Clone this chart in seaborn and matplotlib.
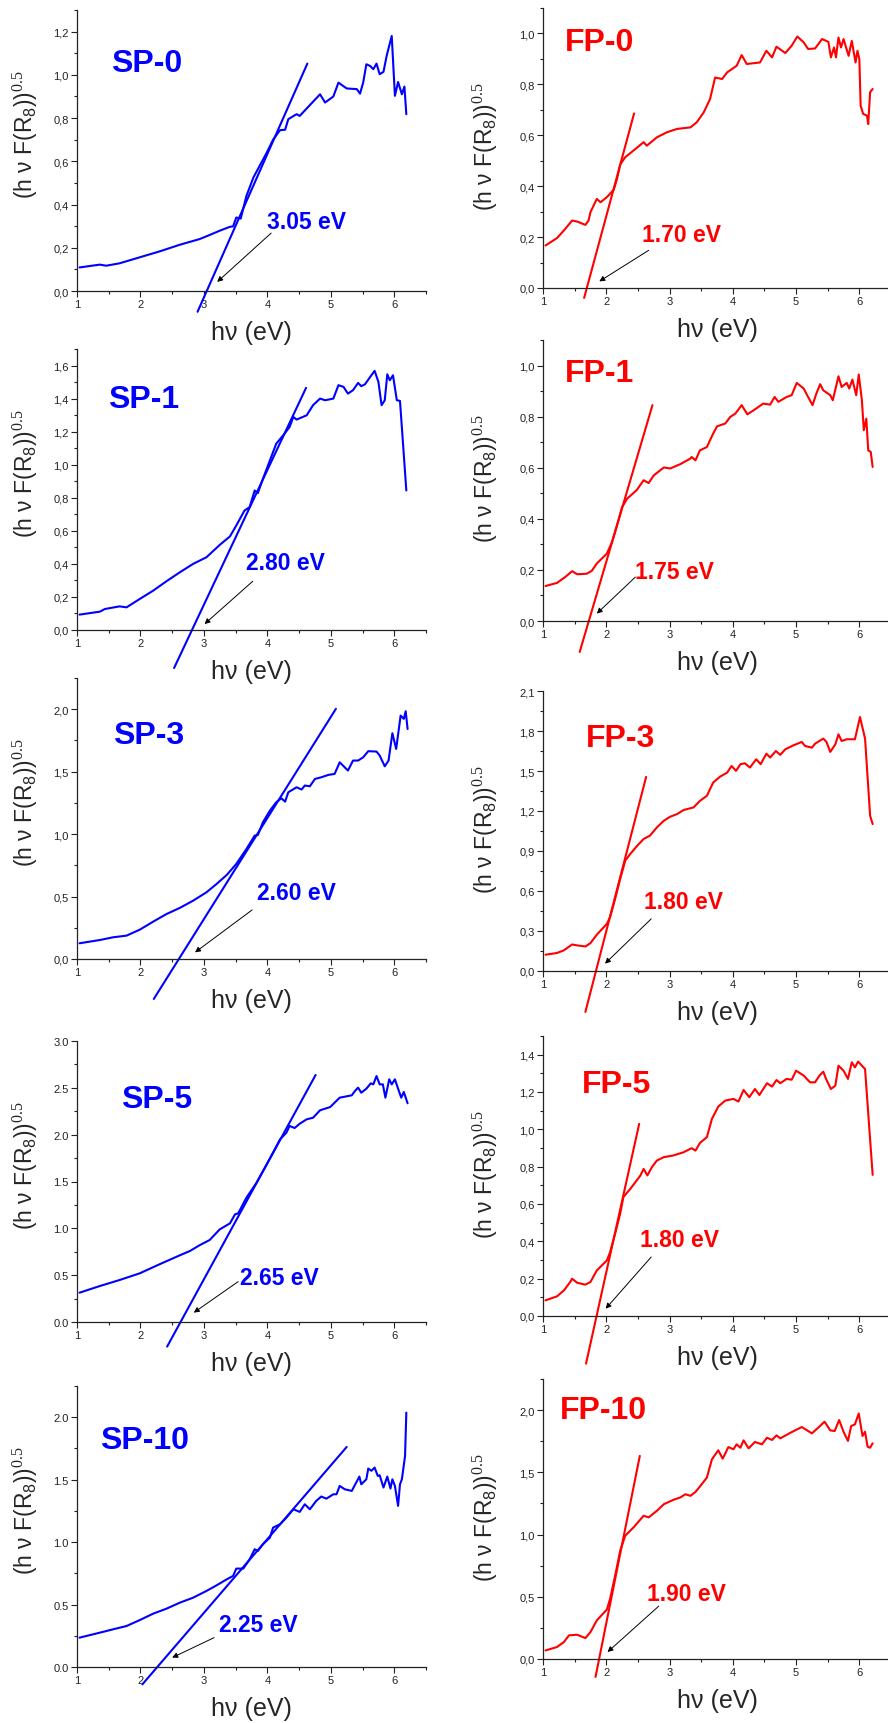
import matplotlib
matplotlib.use("Agg")
import matplotlib.pyplot as plt
from matplotlib.ticker import MultipleLocator, FuncFormatter
import seaborn as sns
import pandas as pd

# ---------------- data ----------------
SP0_x = [1.04, 1.36, 1.46, 1.67, 1.99, 2.30, 2.62, 2.93, 3.04, 3.25, 3.41, 3.46, 3.51, 3.58, 3.67, 3.78, 3.88, 3.99, 4.09, 4.20, 4.28, 4.33, 4.46, 4.51, 4.67, 4.83, 4.91, 5.04, 5.12, 5.25, 5.41, 5.46, 5.51, 5.56, 5.62, 5.67, 5.72, 5.77, 5.83, 5.88, 5.96, 6.01, 6.06, 6.12, 6.16, 6.19]
SP0_y = [0.109, 0.122, 0.117, 0.128, 0.156, 0.183, 0.214, 0.240, 0.253, 0.279, 0.297, 0.299, 0.340, 0.335, 0.440, 0.525, 0.580, 0.640, 0.700, 0.744, 0.746, 0.795, 0.818, 0.810, 0.860, 0.910, 0.872, 0.900, 0.964, 0.937, 0.934, 0.913, 0.964, 1.049, 1.041, 1.026, 1.052, 1.003, 1.014, 1.088, 1.180, 0.903, 0.967, 0.910, 0.946, 0.818]

FP0_x = [1.04, 1.22, 1.33, 1.46, 1.54, 1.67, 1.72, 1.75, 1.85, 1.91, 2.01, 2.12, 2.17, 2.22, 2.30, 2.46, 2.59, 2.64, 2.80, 2.96, 3.12, 3.33, 3.43, 3.54, 3.64, 3.72, 3.83, 3.91, 4.06, 4.14, 4.22, 4.43, 4.53, 4.62, 4.69, 4.83, 4.93, 5.02, 5.12, 5.19, 5.30, 5.41, 5.51, 5.55, 5.60, 5.63, 5.67, 5.71, 5.75, 5.83, 5.88, 5.94, 5.97, 6.00, 6.02, 6.06, 6.12, 6.14, 6.17, 6.21]
FP0_y = [0.167, 0.196, 0.226, 0.265, 0.261, 0.248, 0.265, 0.298, 0.350, 0.337, 0.357, 0.387, 0.429, 0.485, 0.514, 0.546, 0.573, 0.559, 0.592, 0.612, 0.625, 0.631, 0.651, 0.690, 0.742, 0.827, 0.821, 0.847, 0.873, 0.915, 0.880, 0.886, 0.932, 0.906, 0.948, 0.923, 0.952, 0.988, 0.965, 0.939, 0.941, 0.978, 0.967, 0.906, 0.945, 0.906, 0.984, 0.945, 0.978, 0.912, 0.971, 0.886, 0.932, 0.899, 0.716, 0.684, 0.677, 0.644, 0.769, 0.782]

SP1_x = [1.04, 1.36, 1.44, 1.67, 1.78, 1.99, 2.20, 2.41, 2.62, 2.83, 3.04, 3.25, 3.41, 3.51, 3.64, 3.72, 3.80, 3.85, 3.93, 4.04, 4.14, 4.25, 4.35, 4.41, 4.46, 4.62, 4.72, 4.83, 4.91, 5.04, 5.12, 5.20, 5.27, 5.35, 5.43, 5.48, 5.54, 5.62, 5.69, 5.75, 5.80, 5.85, 5.89, 5.93, 5.98, 6.04, 6.09, 6.19]
SP1_y = [0.093, 0.111, 0.127, 0.143, 0.137, 0.188, 0.238, 0.295, 0.349, 0.400, 0.440, 0.515, 0.566, 0.632, 0.723, 0.743, 0.844, 0.828, 0.915, 1.026, 1.127, 1.178, 1.228, 1.289, 1.273, 1.299, 1.360, 1.400, 1.390, 1.400, 1.481, 1.471, 1.430, 1.451, 1.495, 1.475, 1.487, 1.531, 1.568, 1.501, 1.360, 1.390, 1.547, 1.511, 1.541, 1.390, 1.386, 0.844]

FP1_x = [1.04, 1.22, 1.35, 1.46, 1.54, 1.69, 1.77, 1.85, 2.01, 2.09, 2.17, 2.25, 2.33, 2.48, 2.59, 2.67, 2.75, 2.91, 3.01, 3.17, 3.33, 3.35, 3.41, 3.48, 3.59, 3.69, 3.75, 3.88, 3.96, 4.04, 4.14, 4.23, 4.33, 4.48, 4.59, 4.66, 4.72, 4.85, 4.93, 5.01, 5.12, 5.19, 5.26, 5.32, 5.38, 5.43, 5.54, 5.58, 5.67, 5.72, 5.80, 5.84, 5.89, 5.95, 5.99, 6.04, 6.07, 6.11, 6.14, 6.18, 6.21]
FP1_y = [0.137, 0.149, 0.172, 0.195, 0.183, 0.185, 0.196, 0.225, 0.264, 0.309, 0.375, 0.446, 0.479, 0.512, 0.551, 0.540, 0.570, 0.601, 0.597, 0.614, 0.636, 0.642, 0.629, 0.668, 0.681, 0.734, 0.762, 0.773, 0.799, 0.812, 0.845, 0.809, 0.825, 0.851, 0.847, 0.877, 0.858, 0.877, 0.884, 0.932, 0.910, 0.877, 0.845, 0.890, 0.927, 0.903, 0.884, 0.864, 0.958, 0.916, 0.932, 0.910, 0.945, 0.884, 0.965, 0.864, 0.747, 0.792, 0.668, 0.662, 0.603]

SP3_x = [1.04, 1.36, 1.57, 1.78, 1.99, 2.20, 2.41, 2.62, 2.83, 3.04, 3.20, 3.36, 3.51, 3.67, 3.80, 3.85, 3.93, 4.04, 4.14, 4.22, 4.28, 4.33, 4.46, 4.54, 4.59, 4.67, 4.75, 4.85, 4.96, 5.06, 5.14, 5.27, 5.35, 5.43, 5.51, 5.59, 5.72, 5.77, 5.85, 5.91, 5.97, 6.03, 6.10, 6.15, 6.18, 6.21]
SP3_y = [0.126, 0.152, 0.174, 0.187, 0.235, 0.299, 0.360, 0.409, 0.467, 0.534, 0.601, 0.673, 0.761, 0.881, 0.988, 0.993, 1.095, 1.188, 1.255, 1.287, 1.260, 1.335, 1.375, 1.357, 1.389, 1.383, 1.442, 1.455, 1.474, 1.482, 1.575, 1.509, 1.589, 1.589, 1.615, 1.664, 1.661, 1.629, 1.543, 1.589, 1.808, 1.682, 1.949, 1.923, 1.984, 1.842]

FP3_x = [1.04, 1.22, 1.33, 1.46, 1.54, 1.67, 1.75, 1.85, 2.01, 2.06, 2.14, 2.22, 2.30, 2.38, 2.48, 2.59, 2.69, 2.80, 2.91, 3.01, 3.12, 3.22, 3.38, 3.48, 3.59, 3.69, 3.80, 3.91, 3.98, 4.05, 4.12, 4.19, 4.27, 4.37, 4.44, 4.53, 4.59, 4.68, 4.75, 4.83, 4.96, 5.09, 5.14, 5.25, 5.30, 5.43, 5.48, 5.54, 5.62, 5.67, 5.72, 5.80, 5.93, 6.01, 6.09, 6.17, 6.21]
FP3_y = [0.122, 0.135, 0.155, 0.199, 0.192, 0.184, 0.209, 0.272, 0.354, 0.404, 0.541, 0.691, 0.828, 0.878, 0.935, 0.990, 1.015, 1.077, 1.127, 1.157, 1.177, 1.207, 1.227, 1.276, 1.314, 1.414, 1.458, 1.488, 1.538, 1.501, 1.551, 1.558, 1.526, 1.588, 1.551, 1.630, 1.601, 1.650, 1.621, 1.663, 1.693, 1.718, 1.688, 1.675, 1.705, 1.743, 1.718, 1.643, 1.700, 1.775, 1.725, 1.738, 1.738, 1.905, 1.743, 1.164, 1.102]

SP5_x = [1.04, 1.36, 1.67, 1.99, 2.30, 2.62, 2.78, 2.93, 3.09, 3.25, 3.41, 3.49, 3.54, 3.67, 3.83, 3.99, 4.09, 4.20, 4.30, 4.35, 4.43, 4.51, 4.62, 4.72, 4.83, 4.99, 5.14, 5.33, 5.38, 5.43, 5.48, 5.56, 5.63, 5.67, 5.72, 5.77, 5.82, 5.86, 5.92, 5.96, 6.01, 6.06, 6.11, 6.15, 6.21]
SP5_y = [0.313, 0.384, 0.448, 0.520, 0.616, 0.712, 0.758, 0.819, 0.875, 0.989, 1.053, 1.149, 1.160, 1.327, 1.488, 1.683, 1.808, 1.950, 2.021, 2.093, 2.071, 2.117, 2.164, 2.181, 2.260, 2.295, 2.395, 2.420, 2.466, 2.502, 2.448, 2.491, 2.548, 2.537, 2.626, 2.537, 2.537, 2.395, 2.591, 2.537, 2.591, 2.491, 2.395, 2.456, 2.335]

FP5_x = [1.04, 1.22, 1.33, 1.43, 1.46, 1.54, 1.67, 1.75, 1.85, 2.01, 2.06, 2.14, 2.22, 2.27, 2.38, 2.48, 2.54, 2.59, 2.65, 2.72, 2.80, 2.91, 3.06, 3.22, 3.35, 3.41, 3.48, 3.59, 3.67, 3.77, 3.88, 4.01, 4.09, 4.17, 4.26, 4.35, 4.42, 4.54, 4.62, 4.69, 4.75, 4.85, 4.93, 5.00, 5.12, 5.22, 5.30, 5.37, 5.43, 5.47, 5.55, 5.62, 5.67, 5.75, 5.82, 5.88, 5.93, 5.98, 6.04, 6.09, 6.21]
FP5_y = [0.084, 0.105, 0.137, 0.182, 0.200, 0.178, 0.168, 0.182, 0.244, 0.298, 0.342, 0.441, 0.548, 0.637, 0.681, 0.726, 0.753, 0.788, 0.753, 0.797, 0.833, 0.851, 0.860, 0.877, 0.899, 0.886, 0.927, 0.958, 1.056, 1.122, 1.154, 1.163, 1.149, 1.211, 1.172, 1.216, 1.184, 1.247, 1.229, 1.264, 1.247, 1.270, 1.266, 1.314, 1.288, 1.252, 1.252, 1.288, 1.309, 1.273, 1.216, 1.234, 1.341, 1.314, 1.270, 1.359, 1.332, 1.363, 1.341, 1.323, 0.756]

SP10_x = [1.04, 1.36, 1.57, 1.78, 1.99, 2.20, 2.41, 2.62, 2.83, 3.04, 3.20, 3.36, 3.46, 3.51, 3.62, 3.72, 3.80, 3.85, 3.93, 4.04, 4.09, 4.20, 4.30, 4.41, 4.51, 4.59, 4.67, 4.77, 4.85, 4.93, 5.04, 5.09, 5.14, 5.22, 5.33, 5.45, 5.48, 5.56, 5.59, 5.64, 5.69, 5.74, 5.77, 5.83, 5.89, 5.94, 5.97, 6.01, 6.06, 6.09, 6.12, 6.17, 6.19]
SP10_y = [0.235, 0.275, 0.302, 0.328, 0.376, 0.427, 0.467, 0.515, 0.555, 0.609, 0.654, 0.702, 0.729, 0.788, 0.788, 0.862, 0.943, 0.929, 0.983, 1.036, 1.116, 1.143, 1.196, 1.263, 1.242, 1.303, 1.263, 1.330, 1.365, 1.348, 1.383, 1.383, 1.450, 1.423, 1.410, 1.525, 1.463, 1.503, 1.589, 1.571, 1.597, 1.530, 1.535, 1.437, 1.525, 1.429, 1.503, 1.450, 1.290, 1.463, 1.503, 1.690, 2.037]

FP10_x = [1.04, 1.22, 1.33, 1.41, 1.54, 1.67, 1.75, 1.85, 2.01, 2.06, 2.14, 2.22, 2.30, 2.43, 2.59, 2.67, 2.80, 2.91, 3.06, 3.17, 3.25, 3.33, 3.41, 3.48, 3.59, 3.67, 3.77, 3.84, 3.93, 4.01, 4.06, 4.12, 4.17, 4.25, 4.35, 4.46, 4.54, 4.62, 4.69, 4.75, 4.91, 5.09, 5.25, 5.35, 5.45, 5.54, 5.61, 5.68, 5.75, 5.82, 5.87, 5.93, 5.99, 6.05, 6.09, 6.13, 6.17, 6.21]
FP10_y = [0.069, 0.096, 0.136, 0.190, 0.195, 0.168, 0.216, 0.310, 0.398, 0.483, 0.670, 0.870, 0.991, 1.057, 1.151, 1.138, 1.191, 1.244, 1.279, 1.298, 1.324, 1.311, 1.343, 1.386, 1.458, 1.605, 1.677, 1.610, 1.703, 1.685, 1.725, 1.698, 1.757, 1.693, 1.744, 1.725, 1.778, 1.760, 1.797, 1.773, 1.818, 1.864, 1.813, 1.859, 1.907, 1.837, 1.832, 1.920, 1.826, 1.752, 1.872, 1.886, 1.973, 1.792, 1.826, 1.706, 1.698, 1.733]

# linear (Tauc) fit lines: end points
FIT_x = {"SP-0": [2.90, 4.63], "FP-0": [1.65, 2.44], "SP-1": [2.53, 4.61], "FP-1": [1.58, 2.73],
         "SP-3": [2.21, 5.08], "FP-3": [1.67, 2.63], "SP-5": [2.42, 4.76], "FP-5": [1.68, 2.52],
         "SP-10": [2.03, 5.25], "FP-10": [1.83, 2.53]}
FIT_y = {"SP-0": [-0.096, 1.052], "FP-0": [-0.039, 0.686], "SP-1": [-0.230, 1.465], "FP-1": [-0.121, 0.845],
         "SP-3": [-0.320, 2.003], "FP-3": [-0.307, 1.456], "SP-5": [-0.263, 2.637], "FP-5": [-0.255, 1.029],
         "SP-10": [-0.139, 1.762], "FP-10": [-0.144, 1.632]}

SAMPLES = ["SP-0", "FP-0", "SP-1", "FP-1", "SP-3", "FP-3", "SP-5", "FP-5", "SP-10", "FP-10"]
GAP_LABELS = ["3.05 eV", "1.70 eV", "2.80 eV", "1.75 eV", "2.60 eV", "1.80 eV", "2.65 eV", "1.80 eV", "2.25 eV", "1.90 eV"]
CURVES = {"SP-0": (SP0_x, SP0_y), "FP-0": (FP0_x, FP0_y), "SP-1": (SP1_x, SP1_y), "FP-1": (FP1_x, FP1_y),
          "SP-3": (SP3_x, SP3_y), "FP-3": (FP3_x, FP3_y), "SP-5": (SP5_x, SP5_y), "FP-5": (FP5_x, FP5_y),
          "SP-10": (SP10_x, SP10_y), "FP-10": (FP10_x, FP10_y)}
X_TICKS = [1, 2, 3, 4, 5, 6]

# ---------------- layout / style ----------------
# axes box in pixels: (left, top, right, bottom)
BOX = {"SP-0": (77, 11, 426, 292), "FP-0": (543, 9, 891, 289),
       "SP-1": (77, 350, 426, 631), "FP-1": (543, 341, 891, 622),
       "SP-3": (77, 679, 426, 960), "FP-3": (543, 692, 891, 972),
       "SP-5": (77, 1042, 426, 1323), "FP-5": (543, 1037, 891, 1317),
       "SP-10": (77, 1387, 426, 1668), "FP-10": (543, 1380, 891, 1660)}
YLIM = {"SP-0": 1.3, "FP-0": 1.1, "SP-1": 1.7, "FP-1": 1.1, "SP-3": 2.25, "FP-3": 2.1,
        "SP-5": 3.0, "FP-5": 1.5, "SP-10": 2.25, "FP-10": 2.25}
YSTEP = {"SP-0": 0.2, "FP-0": 0.2, "SP-1": 0.2, "FP-1": 0.2, "SP-3": 0.5, "FP-3": 0.3,
         "SP-5": 0.5, "FP-5": 0.2, "SP-10": 0.5, "FP-10": 0.5}
DOT_SEP = {"SP-5", "SP-10"}
TITLE_POS = {"SP-0": (1.54, 1.057), "FP-0": (1.34, 0.967), "SP-1": (1.49, 1.40), "FP-1": (1.34, 0.969),
             "SP-3": (1.57, 1.797), "FP-3": (1.68, 1.75), "SP-5": (1.69, 2.384), "FP-5": (1.62, 1.243),
             "SP-10": (1.37, 1.818), "FP-10": (1.27, 2.0)}
LABEL_POS = {"SP-0": (4.0, 0.32), "FP-0": (2.56, 0.209), "SP-1": (3.66, 0.41), "FP-1": (2.46, 0.195),
             "SP-3": (3.83, 0.534), "FP-3": (2.59, 0.524), "SP-5": (3.57, 0.473), "FP-5": (2.53, 0.41),
             "SP-10": (3.24, 0.342), "FP-10": (2.64, 0.529)}
ARROW = {"SP-0": ((4.06, 0.268), (3.21, 0.042)), "FP-0": ((2.67, 0.148), (1.89, 0.026)),
         "SP-1": ((3.77, 0.295), (3.01, 0.036)), "FP-1": ((2.46, 0.172), (1.85, 0.029)),
         "SP-3": ((3.76, 0.393), (2.86, 0.053)), "FP-3": ((2.71, 0.391), (1.98, 0.055)),
         "SP-5": ((3.54, 0.431), (2.84, 0.100)), "FP-5": ((2.71, 0.316), (1.99, 0.039)),
         "SP-10": ((3.16, 0.235), (2.50, 0.075)), "FP-10": ((2.83, 0.425), (2.02, 0.056))}

sns.set_style("ticks")
plt.rcParams["font.family"] = ["Liberation Sans", "DejaVu Sans"]
plt.rcParams["mathtext.fontset"] = "custom"
plt.rcParams["mathtext.rm"] = "Liberation Serif"
plt.rcParams["mathtext.sf"] = "Liberation Sans"
plt.rcParams["mathtext.it"] = "Liberation Sans:italic"

W, H = 888, 1724
fig = plt.figure(figsize=(W / 100, H / 100), dpi=100)
fig.patch.set_facecolor("white")

for name, gap in zip(SAMPLES, GAP_LABELS):
    l, t, r, b = BOX[name]
    ax = fig.add_axes([l / W, 1 - b / H, (r - l) / W, (b - t) / H])
    ax.patch.set_alpha(0)
    is_sp = name.startswith("SP")
    color = "#0000FF" if is_sp else "#FF0000"
    cx, cy = CURVES[name]
    df = pd.DataFrame({"x": cx, "y": cy})
    sns.lineplot(data=df, x="x", y="y", ax=ax, color=color, lw=1.5, estimator=None, sort=False)
    fdf = pd.DataFrame({"x": FIT_x[name], "y": FIT_y[name]})
    sns.lineplot(data=fdf, x="x", y="y", ax=ax, color=color, lw=1.5, estimator=None, sort=False, clip_on=False)

    ax.set_xlim(1, 6.5)
    ax.set_ylim(0, YLIM[name])
    ax.set_xticks(X_TICKS)
    ax.xaxis.set_minor_locator(MultipleLocator(0.5))
    ax.yaxis.set_major_locator(MultipleLocator(YSTEP[name]))
    ax.yaxis.set_minor_locator(MultipleLocator(YSTEP[name] / 2))
    if name in DOT_SEP:
        ax.yaxis.set_major_formatter(FuncFormatter(lambda v, p: f"{v:.1f}"))
    else:
        ax.yaxis.set_major_formatter(FuncFormatter(lambda v, p: f"{v:.1f}".replace(".", ",")))
    ax.xaxis.set_major_formatter(FuncFormatter(lambda v, p: f"{v:.0f}"))
    for s in ["top", "right"]:
        ax.spines[s].set_visible(False)
    for s in ["left", "bottom"]:
        ax.spines[s].set_linewidth(0.9)
        ax.spines[s].set_color("#222222")
    ax.tick_params(which="major", direction="out", length=4, width=0.8, labelsize=8,
                   colors="#222222", pad=2)
    ax.tick_params(which="minor", direction="out", length=2.5, width=0.8, colors="#222222")

    ax.set_xlabel("hν (eV)", fontsize=18, va="center")
    ax.xaxis.set_label_coords(0.5, -0.145)
    ax.set_ylabel(r"(h ν F(R$_{\mathsf{8}}$))$^{\mathrm{0.5}}$", fontsize=16.5)
    ax.yaxis.set_label_coords(-0.105 if is_sp else -0.125, 0.56 if is_sp else 0.51)

    tx, ty = TITLE_POS[name]
    ax.text(tx, ty, name, color=color, fontsize=23, fontweight="bold", ha="left", va="center")
    lx, ly = LABEL_POS[name]
    ax.text(lx, ly, gap, color=color, fontsize=16.5, fontweight="bold", ha="left", va="center")
    (ax0, ay0), (ax1, ay1) = ARROW[name]
    ax.annotate("", xy=(ax1, ay1), xytext=(ax0, ay0),
                arrowprops=dict(arrowstyle="-|>", color="black", lw=0.7, mutation_scale=8,
                                shrinkA=0, shrinkB=0))

fig.savefig("out.png", dpi=100, facecolor="white")
